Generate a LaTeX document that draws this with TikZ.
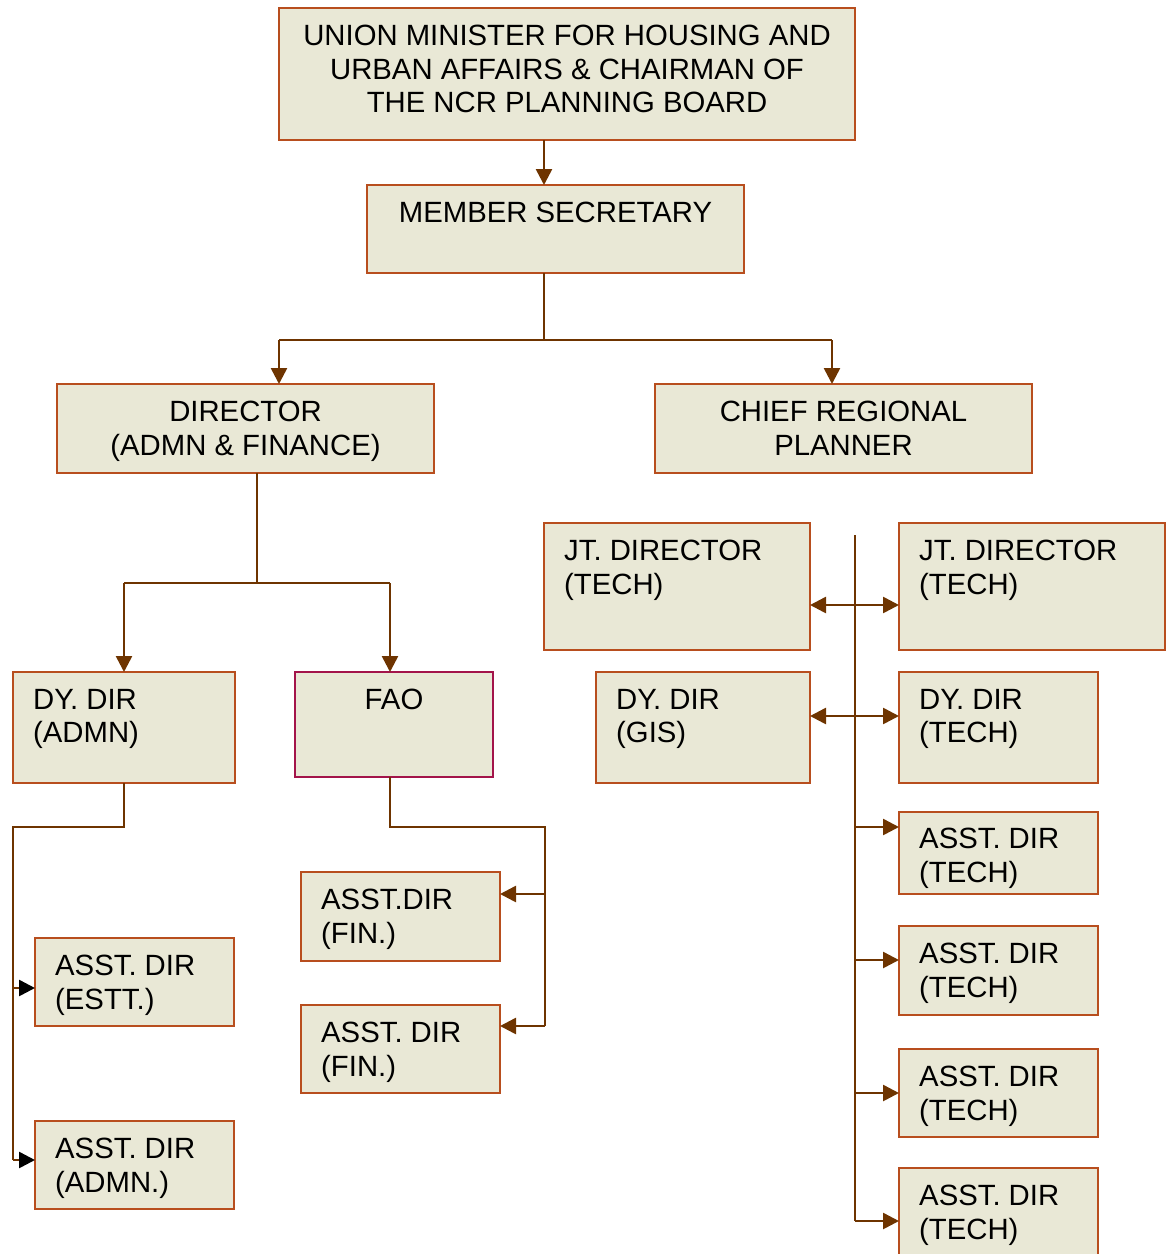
\documentclass[tikz,border=0pt]{standalone}
\usepackage{fontspec}
\setmainfont{Liberation Sans}
\usetikzlibrary{positioning}
\usetikzlibrary{arrows.meta}

\definecolor{boxfill}{RGB}{233,232,214}
\definecolor{boxline}{RGB}{184,78,30}
\definecolor{linkcol}{RGB}{110,52,0}
\definecolor{faoline}{RGB}{163,20,74}

\tikzset{
  post/.style={rectangle, draw=boxline, fill=boxfill, line width=2pt, inner sep=0pt, outer sep=0pt, anchor=north west},
  txt/.style={inner sep=0pt, font=\fontsize{29.3}{33.5}\selectfont},
  link/.style={draw=linkcol, line width=2.6pt},
  feed/.style={link, -{Triangle[length=16pt,width=16pt]}},
  both/.style={link, {Triangle[length=16pt,width=16pt]}-{Triangle[length=16pt,width=16pt]}},
  blackfeed/.style={link, -{Triangle[length=16pt,width=16pt,color=black]}}
}

\begin{document}
\begin{tikzpicture}[x=1pt, y=-1pt]

		\useasboundingbox (0,0) rectangle (1173,1254);
		\clip (0,0) rectangle (1173,1254);

		% boxes
		\node[post, minimum width=576pt, minimum height=132pt](minister) at (279,8){};
		\node[post, minimum width=377pt, minimum height=88pt](membersec) at (367,185){};
		\node[post, minimum width=377pt, minimum height=89pt](director) at (57,384){};
		\node[post, minimum width=377pt, minimum height=89pt](chief) at (655,384){};

		\node[post, minimum width=266pt, minimum height=127pt](jtleft) at (544,523){};
		\node[post, minimum width=266pt, minimum height=127pt](jtright) at (899,523){};
		\node[post, minimum width=214pt, minimum height=111pt](dygis) at (596,672){};
		\node[post, minimum width=199pt, minimum height=111pt](dytech) at (899,672){};
		\node[post, minimum width=199pt, minimum height=82pt](techone) at (899,812){};
		\node[post, minimum width=199pt, minimum height=89pt](techtwo) at (899,926){};
		\node[post, minimum width=199pt, minimum height=88pt](techthree) at (899,1049){};
		\node[post, minimum width=199pt, minimum height=100pt](techfour) at (899,1168){};

		\node[post, minimum width=222pt, minimum height=111pt](dyadmn) at (13,672){};
		\node[post, draw=faoline, minimum width=198pt, minimum height=105pt](fao) at (295,672){};
		\node[post, minimum width=199pt, minimum height=89pt](finone) at (301,872){};
		\node[post, minimum width=199pt, minimum height=88pt](fintwo) at (301,1005){};
		\node[post, minimum width=199pt, minimum height=88pt](estt) at (35,938){};
		\node[post, minimum width=199pt, minimum height=88pt](admn) at (35,1121){};

		% texts
		\node[txt, anchor=north, align=center](minister-t) at ([yshift=-17pt]minister.north){UNION MINISTER FOR HOUSING AND\\URBAN AFFAIRS \& CHAIRMAN OF\\THE NCR PLANNING BOARD};
		\node[txt, anchor=north](membersec-t) at ([yshift=-17pt]membersec.north){MEMBER SECRETARY};
		\node[txt, anchor=north, align=center](director-t) at ([yshift=-17pt]director.north){DIRECTOR\\(ADMN \& FINANCE)};
		\node[txt, anchor=north, align=center](chief-t) at ([yshift=-17pt]chief.north){CHIEF REGIONAL\\PLANNER};

		\node[txt, anchor=north west, align=left](jtleft-t) at ([shift={(20pt,-17pt)}]jtleft.north west){JT. DIRECTOR\\(TECH)};
		\node[txt, anchor=north west, align=left](jtright-t) at ([shift={(20pt,-17pt)}]jtright.north west){JT. DIRECTOR\\(TECH)};
		\node[txt, anchor=north west, align=left](dygis-t) at ([shift={(20pt,-17pt)}]dygis.north west){DY. DIR\\(GIS)};
		\node[txt, anchor=north west, align=left](dytech-t) at ([shift={(20pt,-17pt)}]dytech.north west){DY. DIR\\(TECH)};
		\node[txt, anchor=north west, align=left](techone-t) at ([shift={(20pt,-16pt)}]techone.north west){ASST. DIR\\(TECH)};
		\node[txt, anchor=north west, align=left](techtwo-t) at ([shift={(20pt,-17pt)}]techtwo.north west){ASST. DIR\\(TECH)};
		\node[txt, anchor=north west, align=left](techthree-t) at ([shift={(20pt,-17pt)}]techthree.north west){ASST. DIR\\(TECH)};
		\node[txt, anchor=north west, align=left](techfour-t) at ([shift={(20pt,-17pt)}]techfour.north west){ASST. DIR\\(TECH)};

		\node[txt, anchor=north west, align=left](dyadmn-t) at ([shift={(20pt,-17pt)}]dyadmn.north west){DY. DIR\\(ADMN)};
		\node[txt, anchor=north](fao-t) at ([yshift=-17pt]fao.north){FAO};
		\node[txt, anchor=north west, align=left](finone-t) at ([shift={(20pt,-17pt)}]finone.north west){ASST.DIR\\(FIN.)};
		\node[txt, anchor=north west, align=left](fintwo-t) at ([shift={(20pt,-17pt)}]fintwo.north west){ASST. DIR\\(FIN.)};
		\node[txt, anchor=north west, align=left](estt-t) at ([shift={(20pt,-17pt)}]estt.north west){ASST. DIR\\(ESTT.)};
		\node[txt, anchor=north west, align=left](admn-t) at ([shift={(20pt,-17pt)}]admn.north west){ASST. DIR\\(ADMN.)};

		% junction points
		\coordinate (msplit) at (544,340);
		\coordinate (msleft) at (279,340);
		\coordinate (msright) at (832,340);
		\coordinate (dsplit) at (257,583);
		\coordinate (dsleft) at (124,583);
		\coordinate (dsright) at (390,583);
		\coordinate (adturn) at (124,827);
		\coordinate (adrail) at (13,827);
		\coordinate (adestt) at (13,988);
		\coordinate (adadmn) at (13,1160);
		\coordinate (faoturn) at (390,827);
		\coordinate (faorail) at (545,827);
		\coordinate (faofin) at (545,894);
		\coordinate (faofintwo) at (545,1026);
		\coordinate (railtop) at (855,535);
		\coordinate (railbot) at (855,1221);

		% top of the tree
		\draw [feed] (minister.south -| msplit) -- (membersec.north -| msplit);
		\draw [link] (membersec.south -| msplit) -- (msplit);
		\draw [link] (msleft) -- (msright);
		\draw [feed] (msleft) -- (director.north -| msleft);
		\draw [feed] (msright) -- (chief.north -| msright);

		% admn and finance side
		\draw [link] (director.south -| dsplit) -- (dsplit);
		\draw [link] (dsleft) -- (dsright);
		\draw [feed] (dsleft) -- (dyadmn.north -| dsleft);
		\draw [feed] (dsright) -- (fao.north -| dsright);

		\draw [link] (dyadmn.south -| adturn) -- (adturn) -- (adrail) -- (adadmn);
		\draw [blackfeed] (adestt) -- (estt.west |- adestt);
		\draw [blackfeed] (adadmn) -- (admn.west |- adadmn);

		\draw [link] (fao.south -| faoturn) -- (faoturn) -- (faorail) -- (faofintwo);
		\draw [feed] (faofin) -- (finone.east |- faofin);
		\draw [feed] (faofintwo) -- (fintwo.east |- faofintwo);

		% planning side
		\draw [draw=linkcol, line width=1.6pt] (railtop) -- (railbot);
		\draw [both] (jtleft.east |- 0,605) -- (jtright.west |- 0,605);
		\draw [both] (dygis.east |- 0,716) -- (dytech.west |- 0,716);
		\draw [feed] (railtop |- 0,827) -- (techone.west |- 0,827);
		\draw [feed] (railtop |- 0,960) -- (techtwo.west |- 0,960);
		\draw [feed] (railtop |- 0,1093) -- (techthree.west |- 0,1093);
		\draw [feed] (railbot) -- (techfour.west |- railbot);

	\end{tikzpicture}
\end{document}
